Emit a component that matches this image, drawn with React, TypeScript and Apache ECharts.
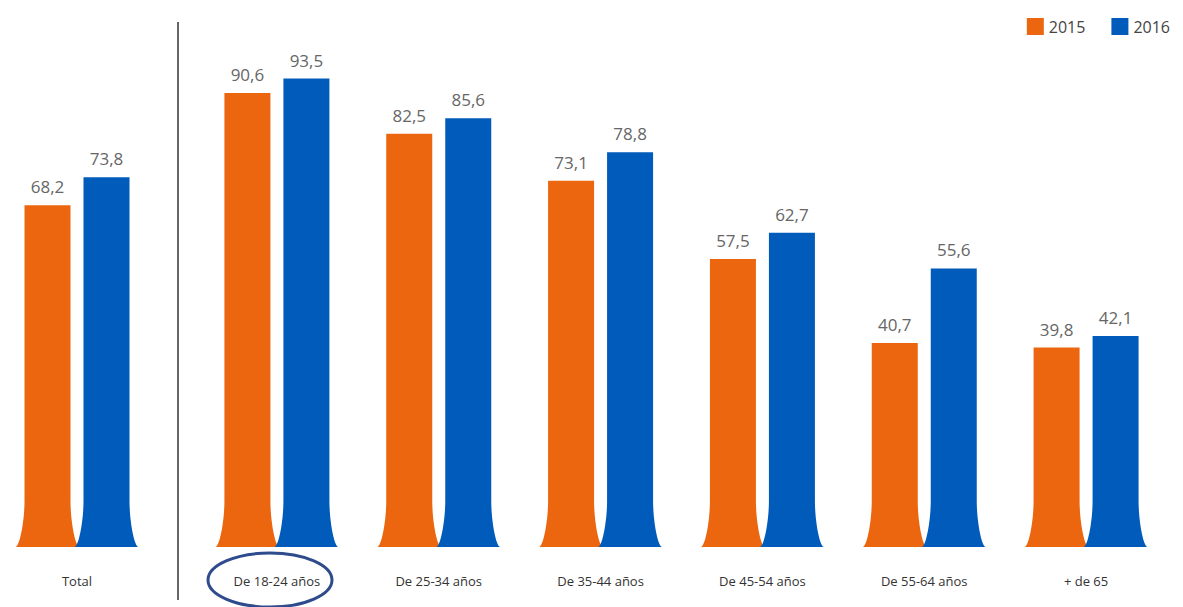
import React, { useEffect, useRef } from "react";
import * as echarts from "echarts";

const totalCategories = ["Total"];
const ageCategories = ["De 18-24 años", "De 25-34 años", "De 35-44 años", "De 45-54 años", "De 55-64 años", "+ de 65"];
const total2015 = [68.2];
const total2016 = [73.8];
const age2015 = [90.6, 82.5, 73.1, 57.5, 40.7, 39.8];
const age2016 = [93.5, 85.6, 78.8, 62.7, 55.6, 42.1];
const years = ["2015", "2016"];

const ORANGE = "#EB660F";
const BLUE = "#005BBB";

function fmt(v: number) {
  return v.toFixed(1).replace(".", ",");
}

function makeRender(offset: number, color: string) {
  return (params: any, api: any) => {
    const idx = api.value(0);
    const val = api.value(1);
    const top = api.coord([idx, val]);
    const base = api.coord([idx, 0]);
    const cx = top[0] + offset;
    const hw = 23;
    const L = cx - hw;
    const R = cx + hw;
    const t = top[1];
    const b = base[1];
    const h = 46;
    const f = 9;
    const d =
      `M${L},${t} L${R},${t} L${R},${b - h} ` +
      `C${R},${b - h * 0.55} ${R + f * 0.55},${b} ${R + f},${b} ` +
      `L${L - f},${b} C${L - f * 0.55},${b} ${L},${b - h * 0.55} ${L},${b - h} Z`;
    return {
      type: "group",
      children: [
        { type: "path", shape: { pathData: d }, style: { fill: color } },
        {
          type: "text",
          x: cx,
          y: t - 10,
          style: {
            text: fmt(val),
            fill: "#666",
            font: "17px 'Open Sans', sans-serif",
            align: "center",
            verticalAlign: "bottom",
          },
        },
      ],
    };
  };
}

export default function App() {
  const ref = useRef<HTMLDivElement>(null);
  useEffect(() => {
    document.body.style.margin = "0";
    const chart = echarts.init(ref.current!, null, { renderer: "svg" });
    const axisCommon = {
      type: "category" as const,
      axisLine: { show: false },
      axisTick: { show: false },
      axisLabel: { color: "#333", fontSize: 13, margin: 27, fontFamily: "'Open Sans', sans-serif" },
    };
    const yCommon = { type: "value" as const, min: 0, max: 100, show: false };
    const mk = (name: string, arr: number[], axis: number, offset: number, color: string) => ({
      type: "custom",
      name,
      xAxisIndex: axis,
      yAxisIndex: axis,
      itemStyle: { color },
      data: arr.map((v, i) => [i, v]),
      renderItem: makeRender(offset, color),
    });
    chart.setOption({
      animation: false,
      legend: {
        data: years,
        right: 8,
        top: 13,
        icon: "rect",
        itemWidth: 17,
        itemHeight: 17,
        itemGap: 26,
        textStyle: { color: "#444", fontSize: 16, fontFamily: "'Open Sans', sans-serif" },
      },
      grid: [
        { left: 0, width: 154, top: 46, bottom: 60 },
        { left: 196, right: 16, top: 46, bottom: 60 },
      ],
      xAxis: [
        { ...axisCommon, gridIndex: 0, data: totalCategories },
        { ...axisCommon, gridIndex: 1, data: ageCategories },
      ],
      yAxis: [
        { ...yCommon, gridIndex: 0 },
        { ...yCommon, gridIndex: 1 },
      ],
      series: [
        mk(years[0], total2015, 0, -29.5, ORANGE),
        mk(years[1], total2016, 0, 29.5, BLUE),
        mk(years[0], age2015, 1, -29.5, ORANGE),
        mk(years[1], age2016, 1, 29.5, BLUE),
      ],
      graphic: [
        {
          type: "line",
          shape: { x1: 178, y1: 22, x2: 178, y2: 600 },
          style: { stroke: "#333", lineWidth: 1.5 },
        },
        {
          type: "ellipse",
          shape: { cx: 270, cy: 580, rx: 62, ry: 27 },
          style: { fill: "none", stroke: "#2E4B8C", lineWidth: 3 },
        },
      ],
    });
    return () => chart.dispose();
  }, []);
  return <div ref={ref} style={{ width: 1183, height: 607 }} />;
}
